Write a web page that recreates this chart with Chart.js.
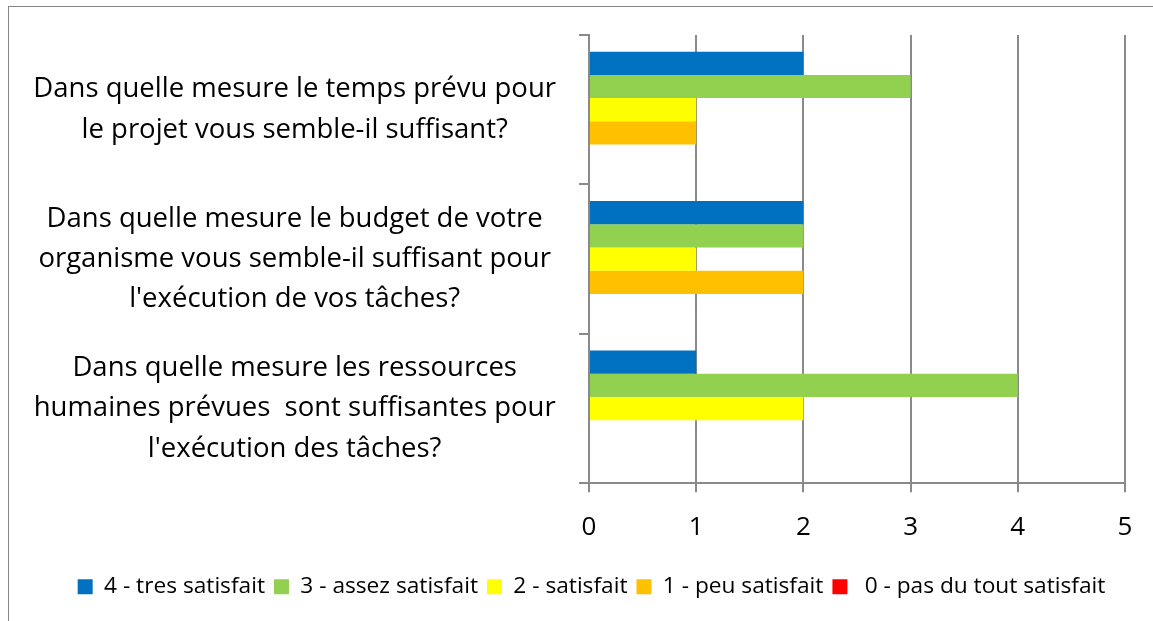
<!DOCTYPE html>
<html lang="fr">
<head>
<meta charset="utf-8">
<title>Satisfaction</title>
<script src="https://cdn.jsdelivr.net/npm/chart.js"></script>
<style>
    html, body { margin: 0; padding: 0; background: #fff; overflow: hidden; }
    #cadre {
        position: absolute; left: 8px; top: 6px; width: 1160px; height: 630px;
        border: 1px solid #868686; box-sizing: border-box;
    }
    #zone { position: absolute; left: 0; top: 0; width: 1153px; height: 621px; }
</style>
</head>
<body>
<div id="cadre"></div>
<div id="zone"><canvas id="satisfactionChart"></canvas></div>
<script>
// Questions (axe vertical)
const categories = [
    ['Dans quelle mesure le temps prévu pour', 'le projet vous semble-il suffisant?'],
    ['Dans quelle mesure le budget de votre', 'organisme vous semble-il suffisant pour', "l'exécution de vos tâches?"],
    ['Dans quelle mesure les ressources', 'humaines prévues  sont suffisantes pour', "l'exécution des tâches?"]
];

// Nombre de réponses par niveau de satisfaction
const tresSatisfait = [2, 2, 1];
const assezSatisfait = [3, 2, 4];
const satisfait = [1, 1, 2];
const peuSatisfait = [1, 2, 0];
const pasDuTout = [0, 0, 0];

const nomsSeries = ['4 - tres satisfait', '3 - assez satisfait', '2 - satisfait', '1 - peu satisfait', ' 0 - pas du tout satisfait'];
const couleurs = ['#0070C0', '#92D050', '#FFFF00', '#FFC000', '#FF0000'];
const graduations = [0, 1, 2, 3, 4, 5];

const gris = '#8a8a8a';

// décale la légende vers la droite (centrée sur tout le cadre comme dans Excel)
const decalageLegende = {
    id: 'decalageLegende',
    afterLayout: function(chart) {
        chart.legend.left += 29;
        chart.legend.right += 29;
    }
};

function createSatisfactionChart() {
    const valeurs = [tresSatisfait, assezSatisfait, satisfait, peuSatisfait, pasDuTout];
    const ctx = document.getElementById('satisfactionChart').getContext('2d');

    new Chart(ctx, {
        type: 'bar',
        data: {
            labels: categories,
            datasets: valeurs.map((v, i) => ({
                label: nomsSeries[i],
                data: v,
                backgroundColor: couleurs[i],
                borderWidth: 0,
                categoryPercentage: 0.777,
                barPercentage: 1
            }))
        },
        options: {
            indexAxis: 'y',
            responsive: true,
            maintainAspectRatio: false,
            animation: false,
            layout: { padding: { top: 35, right: 28, left: 0, bottom: 13 } },
            scales: {
                x: {
                    min: graduations[0],
                    max: graduations[graduations.length - 1],
                    ticks: {
                        stepSize: 1,
                        padding: 20,
                        color: '#000',
                        font: { family: 'Open Sans', size: 26 }
                    },
                    grid: { color: gris, lineWidth: 2, tickLength: 9 },
                    border: { color: gris, width: 2 },
                    afterFit: function(scale) { scale.height = 83; }
                },
                y: {
                    ticks: {
                        crossAlign: 'center',
                        padding: 23,
                        color: '#000',
                        font: { family: 'Open Sans', size: 27.5, lineHeight: 1.46 }
                    },
                    grid: { drawOnChartArea: false, color: gris, lineWidth: 2, tickLength: 10 },
                    border: { color: gris, width: 2 },
                    afterFit: function(scale) {
                        // pas de marge haute/basse pour les libellés multilignes
                        scale.width = 589;
                        scale.paddingTop = 0;
                        scale.paddingBottom = 0;
                    }
                }
            },
            plugins: {
                legend: {
                    position: 'bottom',
                    labels: {
                        boxWidth: 15,
                        boxHeight: 15,
                        padding: 9,
                        color: '#000',
                        font: { family: 'Open Sans', size: 22.7 }
                    }
                },
                tooltip: { enabled: false }
            }
        },
        plugins: [decalageLegende]
    });
}

createSatisfactionChart();
</script>
</body>
</html>
